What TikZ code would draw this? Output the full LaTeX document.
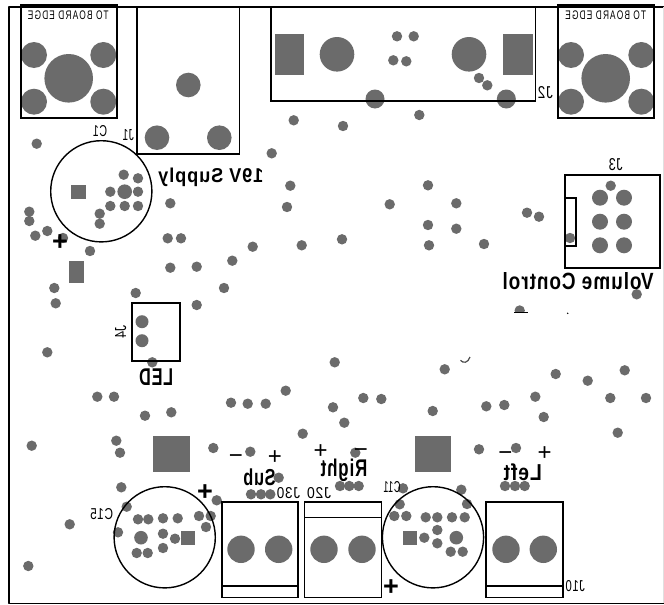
\documentclass[tikz,border=0pt]{standalone}
\usepackage{graphicx}
\usepackage{fontspec}
\setmainfont{Liberation Sans}
\newfontfamily\wideface[LetterSpace=14]{Liberation Sans}
\newfontfamily\spaceface[LetterSpace=5]{Liberation Sans}
\definecolor{pad}{HTML}{6B6B6B}
\newcommand{\mt}[3]{\scalebox{-1}[1]{\resizebox{#1pt}{#2pt}{#3}}}
\tikzset{
  edge/.style={line width=1.6pt,draw=black,line join=round},
  outlinebox/.style={line width=1.6pt,draw=black},
  capring/.style={line width=1.4pt,draw=black},
  mirrortext/.style={inner sep=0pt,outer sep=0pt,anchor=base,text=black},
  smalllabel/.style={inner sep=0pt,outer sep=0pt,anchor=center,text=black},
  polaritymark/.style={inner sep=0pt,outer sep=0pt,anchor=base,text=black},
}
\begin{document}
\begin{tikzpicture}[x=1pt,y=-1pt]
\useasboundingbox (0,0) rectangle (664,605);
\fill[white] (0,0) rectangle (664,605);
% small pads
\foreach \x/\y in {36.7/143.7,293.7/120.3,271.7/153.3,290.3/185.7,287/207,170.3/203.3,167.7/238.3,181/238.3,
301.7/245.3,252.7/246.7,232.3/260.7,196.7/266.7,170.3/267.7,224/288,135.7/293,54.3/288,55.7/303.3,
29.3/211.7,29.3/221,35.3/235.7,47.3/231,63/238,90/251,
123.7/174.7,138/178.3,110.3/191.7,138/191.7,110.3/206,124.7/206,138/206,99.7/213.7,99.7/223.7,
397/36.3,413.7/36.3,393.3/60.3,406.3/61.3,479/78,487.3/85.3,419.3/115,343/126,
610.7/185.7,570/238,428/185.3,389.7/204.3,456.3/203.3,428/225,456.3/228.7,429/245.3,484/244,342/239.3,527/212.7,539/216.7,636.7/294.3,
196.7/305,47.3/352.3,152.3/362.3,97.3/396.7,114/396.7,145/415.7,171.3/412.3,231/402.7,247.7/403.7,265.7/403.7,285.7/390.7,302.7/433.7,
31.7/445.7,116.3/440.7,120/452.7,213.3/448,250.3/451.7,121.3/487.3,278.7/477.7,251/494.3,261/494.3,270.3/494.3,216.7/500.3,126.7/506.7,69.7/524.3,28.3/566,
334.7/362.3,333/407.3,344.3/422.7,363.3/398,381.3/399,432.7/411,444.7/369.3,486.3/406.3,504.3/405,535.3/396.7,543.7/417,555.7/374,587.7/380.7,624.7/370.3,610.3/398,646/398,617.7/432.7,479/449.3,516/448,355.3/452.7,
340/486,349.3/486,358.7/486,505/486,515/486,524.7/486,
138/519.3,148.3/519.3,163/518.3,177.7/518.3,199/516,210.7/516,206/527,118/532.3,163/533.7,175/538.7,163/548,136.7/553,147.7/553,
403/488.3,461.3/489.7,399.7/504.3,467/504,394.3/516,406.3/516,425.7/517.3,437.3/517.3,452/517.3,464.7/517.3,437.3/530,424.3/537.7,437.3/543.3,450.7/551.7,462.7/551.7}
  \fill[pad] (\x,\y) circle (5.2);
% larger pads
\foreach \x/\y/\r in {68.7/78.3/24.3,34/55/13,103.3/55/13,34/101.7/13,103.3/101.7/13,
605.7/78.3/24.3,571/55/13,641.3/55/13,571/101.7/13,641.3/101.7/13,
188.3/85/12.3,157/137.7/12.3,219.3/137.7/12.3,
337/54.3/17.3,469/54.3/17.3,375/99/9.5,506.3/99/9.5,124.7/191.7/7.3,
600/197.7/8,624/197.7/8,600/221.7/8,624/221.7/8,600/245.3/8,624/245.3/8,
142/321.7/6.5,142/340.7/6.5,141/537.7/6.8,456.3/537.7/6.8,
241/549.3/13.7,278.7/549.3/13.7,324/549.3/13.7,362/549.3/13.7,506/549.3/13.7,543.3/549.3/13.7}
  \fill[pad] (\x,\y) circle (\r);
% square pads
\foreach \a/\b/\c/\d in {275/34.3/303.7/75,503/34.3/533/75,71/184.7/85.7/199.3,68.7/261.3/84.3/282.7,
153.3/436.3/190.3/472,414.7/436.3/451.3/472,181/530.7/195.3/545,402.7/530.7/417.3/545}
  \fill[pad] (\a,\b) rectangle (\c,\d);
% clipped pad fragments
\begin{scope}
\clip (510,300) rectangle (530,312.8);
\fill[pad] (519.7,310.5) circle (5.2);
\end{scope}
\draw[line width=0.9pt] (514,312.8) -- (528,312.8);
\fill[black] (567.7,313.3) circle (0.8);
\draw[line width=1.2pt,draw=black!70] (460.5,360.3) .. controls (463,363.5) and (468,363.2) .. (470,357);
% outline
\draw[edge] (664,603.5) -- (9,603.5) -- (9,6.7) -- (664,6.7);
\draw[line width=0.6pt,draw=black!12] (663.7,6.7) -- (663.7,603.3);
% boxes
\foreach \a/\b/\c/\d in {21/5/116.7/117.7,558/5/653.7/117.7,136.7/6.7/239.3/153.7,271/6.7/535.3/101,
564.7/175/659.7/268,564.7/197.7/576/246,131.7/302.7/180/360.7,
221.7/501.7/297.7/597.3,304.3/501.7/381.3/597.3,486/501.7/562.7/597.3}
  \draw[outlinebox] (\a,\b) rectangle (\c,\d);
\draw[outlinebox] (221.7,586) -- (297.7,586);
\draw[outlinebox] (304.3,517.3) -- (381.3,517.3);
\draw[outlinebox] (486,586) -- (562.7,586);
% capacitors
\foreach \x/\y in {101.3/191.3,164.7/537.3,433/537.3}
  \draw[capring] (\x,\y) circle (50.6);
% small labels
\foreach \n/\x/\y/\w/\h/\t in {tl/68.3/15/80.7/8.7/TO BOARD EDGE,tr/605.7/15/80.7/8.7/TO BOARD EDGE}
  \node[smalllabel] (\n) at (\x,\y) {\mt{\w}{\h}{\wideface\t}};
\foreach \n/\x/\y/\w/\h/\t in {c1/100/131.5/14/11/C1,j1/128.3/135/11.3/11/J1,j2/545.3/92.3/15/12/J2,j3/615.7/165/14/12/J3,
c15/101.7/514.3/22.7/11/C15,c11/392/486.7/17/11/C11,j10/575.3/586/19.3/11/J10,j30/288.5/493.5/23/11/J30,j20/319/493.5/24/11/J20}
  \node[smalllabel] (\n) at (\x,\y) {\mt{\w}{\h}{\spaceface\t}};
\node[smalllabel,rotate=90] (j4) at (120.7,331.7) {\mt{13}{11}{J4}};
% big labels
\foreach \n/\x/\y/\w/\h/\t in {vol/578.2/289.3/151/17/Volume Control,sup/210.8/182.7/105/14.5/19V Supply,led/156.2/385/34/16.7/LED,
sub/259.5/485/32.4/16.7/Sub,rgt/344/476.7/46.6/17.5/Right,lft/522.8/480/38.3/16.7/Left}
  \node[mirrortext] (\n) at (\x,\y) {\mt{\w}{\h}{\spaceface\bfseries\t}};
% polarity marks
\foreach \n/\x/\y/\t in {m1/235.8/455.3/−,p1/275/456/+,p2/320.7/450.7/+,m2/361/449.5/−,m3/505.5/452/−,p3/544.7/452.7/+}
  \node[polaritymark,font=\fontsize{24}{24}\selectfont] (\n) at (\x,\y+8) {\t};
\foreach \n/\x/\y in {b1/60/240.7,b2/205/491,b3/391/586}
  \node[polaritymark,font=\fontsize{27}{27}\selectfont\bfseries] (\n) at (\x,\y+9.3) {+};
\end{tikzpicture}
\end{document}
